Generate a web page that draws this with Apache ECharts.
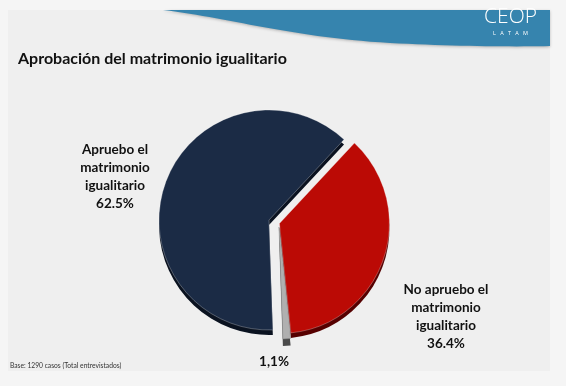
<!DOCTYPE html>
<html>
<head>
<meta charset="utf-8">
<script src="https://cdn.jsdelivr.net/npm/echarts@6/dist/echarts.min.js"></script>
<style>
html,body{margin:0;padding:0;background:#f5f5f5;}
#chart{width:566px;height:386px;}
</style>
</head>
<body>
<div id="chart"></div>
<script>
var categories = ['Apruebo el\nmatrimonio\nigualitario', 'No apruebo el\nmatrimonio\nigualitario', 'Ns/Nc'];
var values = [62.5, 36.4, 1.1];
var valueLabels = ['62.5%', '36.4%', '1,1%'];
var exploded = [false, true, false];

var topColors = ['#1b2b45', '#bb0a05', '#b0b0b0'];
var sideColors = ['#0a1220', '#560000', '#4a4a4a'];
var labelPos = [[115, 177], [446, 317], [274, 362]];

// build pie data; slices not in "show" are transparent placeholders (keep angles identical)
function buildData(colors, show) {
  return categories.map(function (c, i) {
    var vis = show.indexOf(i) >= 0;
    return {
      name: c, value: values[i], selected: vis && exploded[i],
      itemStyle: { color: vis ? colors[i] : 'rgba(0,0,0,0)', borderWidth: vis ? undefined : 0 }
    };
  });
}

// decorative header swoosh outline (cubic bezier segments sampled into a polygon)
function bez(p0, p1, p2, p3, n, out) {
  for (var k = 0; k <= n; k++) {
    var t = k / n, u = 1 - t;
    out.push([
      u*u*u*p0[0] + 3*u*u*t*p1[0] + 3*u*t*t*p2[0] + t*t*t*p3[0],
      u*u*u*p0[1] + 3*u*u*t*p1[1] + 3*u*t*t*p2[1] + t*t*t*p3[1]
    ]);
  }
  return out;
}
var swoosh = [];
bez([163, 10], [230, 18], [290, 37], [390, 43], 30, swoosh);
bez([390, 43], [450, 46], [510, 47], [550, 46], 20, swoosh);
swoosh.push([550, 10]);

var chart = echarts.init(document.getElementById('chart'), null, { renderer: 'canvas' });
var font = 'Lato, "Open Sans", sans-serif';

var labelTexts = categories.map(function (c, i) {
  return {
    type: 'text', z: 10, x: labelPos[i][0], y: labelPos[i][1],
    style: {
      text: i === 2 ? valueLabels[i] : c + '\n' + valueLabels[i],
      fill: '#111', font: 'bold 13.5px ' + font, lineHeight: 18,
      align: 'center', verticalAlign: 'middle'
    }
  };
});

var common = {
  type: 'pie', clockwise: true, startAngle: -88, radius: 110,
  selectedMode: 'multiple', selectedOffset: 11,
  emphasis: { disabled: true }, silent: true,
  label: { show: false }, labelLine: { show: false }
};
function pie(extra) { return Object.assign({}, common, extra); }

var option = {
  backgroundColor: '#f5f5f5',
  animation: false,
  title: {
    text: 'Aprobación del matrimonio igualitario',
    left: 13, top: 46,
    textStyle: { fontFamily: font, fontSize: 16, fontWeight: 'bold', color: '#111' }
  },
  graphic: [
    { type: 'rect', z: -10, shape: { x: 8, y: 10, width: 542, height: 361 }, style: { fill: '#efefef' } },
    { type: 'polygon', z: -5,
      shape: { points: swoosh },
      style: { fill: '#3684ae', shadowBlur: 3, shadowColor: 'rgba(0,0,0,0.25)', shadowOffsetY: 1 } },
    { type: 'text', z: 5, left: 484, top: 7,
      style: { text: 'CEOP', fill: '#ffffff', font: '300 21px "Open Sans", sans-serif' } },
    { type: 'text', z: 5, left: 493, top: 30,
      style: { text: 'L   A   T   A   M', fill: '#ffffff', font: '5.5px "Open Sans", sans-serif' } },
    { type: 'text', z: 5, left: 10, top: 362,
      style: { text: 'Base: 1290 casos (Total entrevistados)', fill: '#333', font: '6.7px ' + font } }
  ].concat(labelTexts),
  series: [
    pie({ name: 'side', z: 1, center: [269, 225], data: buildData(sideColors, [0, 1]) }),
    pie({ name: 'Aprobación', z: 2, center: [269, 220],
          itemStyle: { borderColor: 'rgba(255,255,255,0.35)', borderWidth: 0.8 },
          data: buildData(topColors, [0, 1]) }),
    pie({ name: 'side-ns', z: 1, center: [279, 234], radius: 112, data: buildData(sideColors, [2]) }),
    pie({ name: 'Ns/Nc', z: 2, center: [279, 227], radius: 112,
          itemStyle: { borderColor: '#888', borderWidth: 0.5 },
          data: buildData(topColors, [2]) })
  ]
};
chart.setOption(option);
</script>
</body>
</html>
